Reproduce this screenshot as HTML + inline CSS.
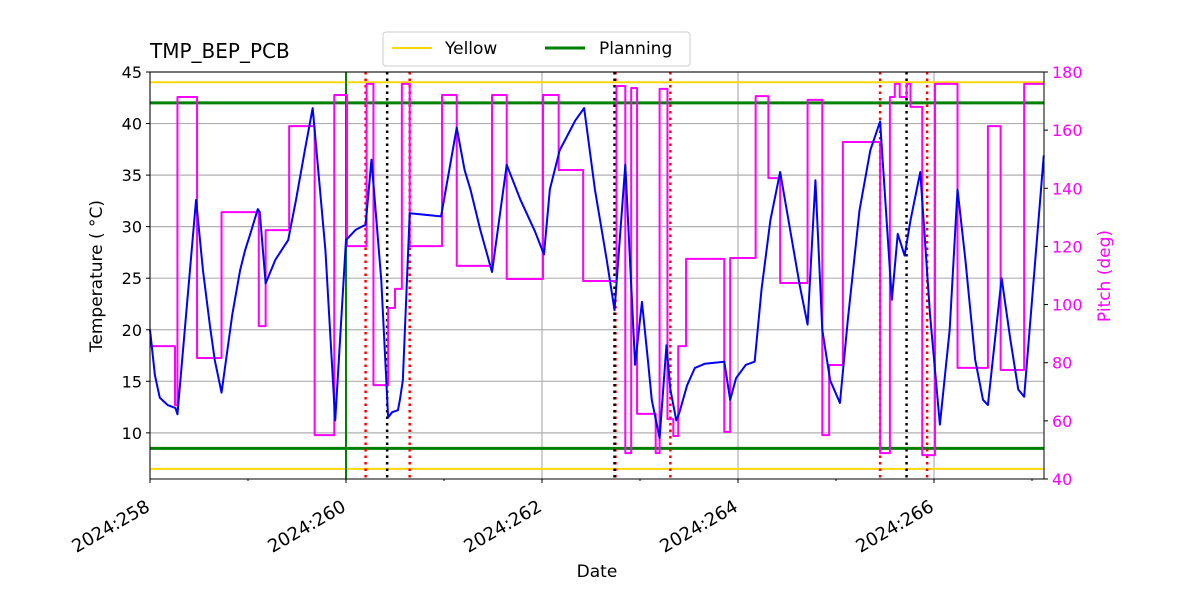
<!DOCTYPE html>
<html><head><meta charset="utf-8"><style>
body{margin:0;background:#fff}
svg text{font-family:"DejaVu Sans","Liberation Sans",sans-serif}
</style></head><body>
<svg id="chart" width="1200" height="600" xmlns="http://www.w3.org/2000/svg"></svg>
<script>
const tempDays=[0,.05,.10,.18,.26,.28,.47,.54,.61,.66,.73,.84,.92,.97,1.02,1.10,1.12,1.18,1.28,1.41,1.49,1.58,1.66,1.79,1.89,2.0,2.10,2.20,2.26,2.36,2.43,2.47,2.53,2.55,2.58,2.65,2.97,3.13,3.21,3.27,3.37,3.49,3.64,3.78,3.93,4.02,4.08,4.18,4.34,4.43,4.54,4.66,4.74,4.85,4.95,5.02,5.08,5.12,5.20,5.27,5.31,5.37,5.40,5.48,5.56,5.66,5.86,5.92,5.98,6.08,6.17,6.24,6.33,6.43,6.55,6.63,6.71,6.79,6.86,6.94,7.04,7.12,7.24,7.35,7.45,7.57,7.63,7.70,7.76,7.86,7.96,8.01,8.06,8.16,8.24,8.32,8.42,8.50,8.55,8.69,8.78,8.86,8.92,9.12];
const tempValues=[20.0,15.6,13.4,12.7,12.4,11.8,32.6,25.8,20.5,17.1,13.9,21.5,25.8,27.7,29.2,31.7,31.4,24.5,26.8,28.7,32.6,37.4,41.5,27.7,11.2,28.7,29.7,30.2,36.5,24.8,11.5,12.0,12.2,13.2,15.1,31.3,31.0,39.6,35.5,33.6,29.7,25.6,36.0,32.6,29.5,27.3,33.6,37.4,40.3,41.5,33.6,26.8,21.9,36.0,16.6,22.7,17.1,13.2,9.5,18.5,14.2,11.2,11.9,14.6,16.3,16.7,16.9,13.2,15.3,16.6,16.9,23.9,30.6,35.3,28.7,24.3,20.5,34.5,20.0,15.1,12.9,20.9,31.6,37.4,40.2,22.9,29.3,27.2,30.6,35.3,21.4,16.1,10.8,20.0,33.6,26.8,17.1,13.2,12.7,25.0,19.0,14.2,13.5,36.9];
const pitchDays=[0,.255,.28,.48,.73,1.11,1.18,1.42,1.68,1.88,2.01,2.21,2.28,2.43,2.50,2.57,2.65,2.98,3.13,3.49,3.64,4.01,4.17,4.42,4.76,4.85,4.91,4.97,5.16,5.20,5.28,5.34,5.39,5.47,5.86,5.92,6.18,6.31,6.43,6.71,6.86,6.93,7.07,7.45,7.55,7.60,7.65,7.72,7.76,7.88,8.01,8.24,8.55,8.68,8.92];
const pitchValues=[85.7,65.4,171.4,81.6,131.8,92.6,125.6,161.4,55.1,172.1,120.1,175.9,72.3,98.8,105.4,175.9,120.1,172.1,113.3,172.1,108.8,172.1,146.3,108.1,175.2,48.9,174.5,62.4,48.9,174.2,60.6,54.8,85.7,115.7,56.2,116.0,171.7,143.5,107.4,170.4,55.1,79.2,155.9,48.9,171.4,175.9,171.4,175.9,168.0,48.2,175.9,78.2,161.4,77.5,175.9];
const pitchEnd=9.12;
const redLines=[2.20,2.65,4.75,5.31,7.45,7.93];
const blackLines=[2.42,4.74,7.72];
const yellowLimits=[44,6.5];
const planningLimits=[42,8.5];
const xTickDays=[0,2,4,6,8];
const xTickLabels=["2024:258","2024:260","2024:262","2024:264","2024:266"];
const yTicks=[10,15,20,25,30,35,40,45];
const pTicks=[40,60,80,100,120,140,160,180];

const L=150,R=1044,T=72,B=479;
const X=d=>L+d*98;
const Y=v=>T+(45-v)*10.31;
const P=v=>T+(180-v)*2.907;
const svg=document.getElementById('chart');
const NS='http://www.w3.org/2000/svg';
function mk(tag,at,parent){const e=document.createElementNS(NS,tag);for(const k in at)e.setAttribute(k,at[k]);(parent||svg).appendChild(e);return e;}

yTicks.forEach(v=>{const g=mk('line',{x1:L,x2:R,y1:Y(v),y2:Y(v),stroke:'#b0b0b0','stroke-width':1.2});

});
xTickDays.forEach(d=>{const g=mk('line',{x1:X(d),x2:X(d),y1:T,y2:B,stroke:'#b0b0b0','stroke-width':1.2});

});

yellowLimits.forEach(v=>{const e=mk('line',{x1:L,x2:R,y1:Y(v),y2:Y(v),stroke:'#ffd700','stroke-width':2});

});
planningLimits.forEach(v=>{const e=mk('line',{x1:L,x2:R,y1:Y(v),y2:Y(v),stroke:'#008000','stroke-width':3});

});
const gv=mk('line',{x1:X(2),x2:X(2),y1:T,y2:B,stroke:'#008000','stroke-width':2});


redLines.forEach(d=>{const e=mk('line',{x1:X(d),x2:X(d),y1:T,y2:B,stroke:'#ff0000','stroke-width':2.5,'stroke-dasharray':'2.5,4'});

});
blackLines.forEach(d=>{const e=mk('line',{x1:X(d),x2:X(d),y1:T,y2:B,stroke:'#000','stroke-width':2.5,'stroke-dasharray':'2.5,4'});

});

let pd='';
pitchDays.forEach((d,i)=>{const next=i<pitchDays.length-1?pitchDays[i+1]:pitchEnd;
pd+=(i?'L':'M')+X(d)+','+P(pitchValues[i])+'L'+X(next)+','+P(pitchValues[i]);});
const pl=mk('path',{d:pd,fill:'none',stroke:'#ff00ff','stroke-width':2,'stroke-linejoin':'round'});



const tp=tempDays.map((d,i)=>(i?'L':'M')+X(d)+','+Y(tempValues[i])).join('');
const tl=mk('path',{d:tp,fill:'none',stroke:'#0000ff','stroke-width':2,'stroke-linejoin':'round'});



const fr=mk('rect',{x:L,y:T,width:R-L,height:B-T,fill:'none',stroke:'#000','stroke-width':1});



yTicks.forEach(v=>{mk('line',{x1:L-4,x2:L,y1:Y(v),y2:Y(v),stroke:'#000'});
const t=mk('text',{x:L-8,y:Y(v)+6,'text-anchor':'end','font-size':16,fill:'#000'});t.textContent=v;

});
pTicks.forEach(v=>{mk('line',{x1:R,x2:R+4,y1:P(v),y2:P(v),stroke:'#000'});
const t=mk('text',{x:R+8,y:P(v)+6,'font-size':16,fill:'#ff00ff'});t.textContent=v;

});
for(let d=1;d<=9;d+=2)mk('line',{x1:X(d),x2:X(d),y1:B,y2:B+2,stroke:'#000'});
xTickDays.forEach((d,i)=>{mk('line',{x1:X(d),x2:X(d),y1:B,y2:B+4,stroke:'#000'});
const ax=X(d)+1,ay=B+31;
const t=mk('text',{x:ax,y:ay,'text-anchor':'end','font-size':18,fill:'#000',transform:`rotate(-30 ${ax} ${ay})`});t.textContent=xTickLabels[i];

});

const tt=mk('text',{x:150,y:58,'font-size':20,fill:'#000'});tt.textContent='TMP_BEP_PCB';


const xl=mk('text',{x:597,y:577,'text-anchor':'middle','font-size':17,fill:'#000'});xl.textContent='Date';


const yl=mk('text',{x:102,y:276,'text-anchor':'middle','font-size':17,fill:'#000',transform:'rotate(-90 102 276)'});
yl.textContent='Temperature ( \u00b0C)';


const pl2=mk('text',{x:1110,y:276,'text-anchor':'middle','font-size':17,fill:'#ff00ff',transform:'rotate(-90 1110 276)'});pl2.textContent='Pitch (deg)';



const lg=mk('g',{});


mk('rect',{x:383,y:32,width:307,height:34,rx:3,fill:'#fff',stroke:'#ccc'},lg);
mk('line',{x1:392,x2:432,y1:48,y2:48,stroke:'#ffd700','stroke-width':2},lg);
const l1=mk('text',{x:445,y:54,'font-size':17,fill:'#000'},lg);l1.textContent='Yellow';


mk('line',{x1:545,x2:585,y1:48,y2:48,stroke:'#008000','stroke-width':3},lg);
const l2=mk('text',{x:599,y:54,'font-size':17,fill:'#000'},lg);l2.textContent='Planning';


</script>
</body></html>
